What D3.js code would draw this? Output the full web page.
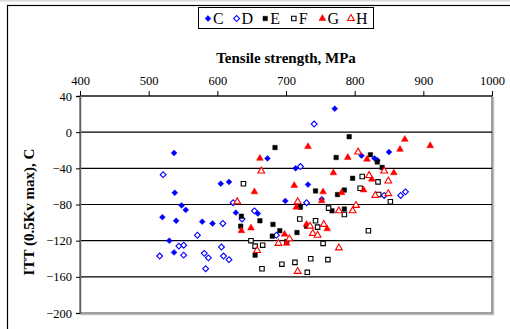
<!DOCTYPE html>
<html>
<head>
<meta charset="utf-8">
<script src="https://cdn.jsdelivr.net/npm/d3@7/dist/d3.min.js"></script>
<style>
  body { margin: 0; background: #fff; }
  svg { display: block; }
  svg text { font-family: "Liberation Serif", "Times New Roman", serif !important; }
</style>
</head>
<body>
<div id="chart"></div>
<script>
// Tensile strength (MPa) vs ITT (C), one [x, y] pair per point
const seriesNames = ['C', 'D', 'E', 'F', 'G', 'H'];

const pointsC = [[537,-23],[538,-67],[548,-81],[554,-86],[520,-94],[540,-98],[530,-120],[537,-133],
  [771,26],[673,-29],[714,-40],[605,-57],[617,-55],[732,-58],[699,-76],[752,-74],[627,-89],[659,-90],
  [578,-99],[593,-101],[810,-26],[829,-29],[833,-31],[850,-22]];
const pointsD = [[521,-47],[544,-126],[551,-125],[571,-114],[516,-137],[551,-136],[741,9],[721,-38],
  [623,-78],[730,-78],[654,-87],[636,-96],[608,-101],[686,-114],[606,-127],[581,-134],[587,-139],
  [609,-137],[617,-141],[583,-151],[843,-70],[867,-70],[874,-66]];
const pointsE = [[684,-17],[773,-28],[743,-65],[775,-69],[721,-83],[767,-87],[635,-93],[662,-98],
  [634,-104],[681,-102],[730,-104],[691,-109],[716,-111],[680,-115],[701,-121],[655,-136],[792,-5],
  [823,-25],[833,-33],[840,-39],[797,-51],[785,-64],[785,-85]];
const pointsF = [[638,-57],[762,-84],[720,-96],[743,-98],[746,-105],[649,-120],[754,-123],[655,-126],
  [666,-125],[694,-146],[713,-144],[736,-140],[761,-141],[665,-151],[731,-155],[811,-49],[834,-55],
  [808,-62],[835,-69],[852,-77],[785,-91],[820,-109]];
const pointsG = [[732,-16],[662,-29],[769,-45],[712,-59],[754,-66],[654,-66],[715,-83],[752,-76],
  [635,-109],[649,-106],[730,-102],[760,-107],[698,-113],[701,-123],[873,-8],[910,-15],[866,-19],
  [790,-28],[818,-30],[857,-45],[825,-52],[813,-64],[781,-67]];
const pointsH = [[664,-43],[629,-77],[717,-77],[777,-87],[735,-104],[755,-102],[739,-112],[746,-114],
  [705,-118],[689,-123],[777,-128],[658,-131],[717,-154],[805,-22],[843,-43],[821,-48],[849,-54],
  [830,-70],[849,-68],[797,-87],[802,-81]];

const xTicks = [400, 500, 600, 700, 800, 900, 1000];
const yTicks = [40, 0, -40, -80, -120, -160, -200];

const series = [
  { name: 'C', data: pointsC, shape: 'diamond', color: '#0000ff', filled: true },
  { name: 'D', data: pointsD, shape: 'diamond', color: '#0000ff', filled: false },
  { name: 'E', data: pointsE, shape: 'square', color: '#000000', filled: true },
  { name: 'F', data: pointsF, shape: 'square', color: '#000000', filled: false },
  { name: 'G', data: pointsG, shape: 'triangle', color: '#ff0000', filled: true },
  { name: 'H', data: pointsH, shape: 'triangle', color: '#ff0000', filled: false }
];

const W = 510, H = 329;
const plot = { left: 80, right: 492, top: 96, bottom: 313 };
const serif = '"Liberation Serif", "Times New Roman", serif';

const svg = d3.select('#chart').append('svg')
  .attr('width', W)
  .attr('height', H);

// outer chart frame (runs off the right/bottom of the picture)
svg.append('line').attr('x1', 0).attr('x2', W).attr('y1', 0.5).attr('y2', 0.5)
  .attr('stroke', '#d8d8d8').attr('stroke-width', 2);
svg.append('rect')
  .attr('x', 7.5).attr('y', 5.5)
  .attr('width', 700).attr('height', 500)
  .attr('fill', 'none').attr('stroke', '#000').attr('stroke-width', 1.2);

const x = d3.scaleLinear().domain([400, 1000]).range([plot.left, plot.right]);
const y = d3.scaleLinear().domain([-200, 40]).range([plot.bottom, plot.top]);

// plot area border with a slight shadow
svg.append('rect')
  .attr('x', plot.left + 1.5).attr('y', plot.top + 1.5)
  .attr('width', plot.right - plot.left).attr('height', plot.bottom - plot.top)
  .attr('fill', 'none').attr('stroke', '#c0c0c0').attr('stroke-width', 1.5);
svg.append('rect')
  .attr('x', plot.left).attr('y', plot.top)
  .attr('width', plot.right - plot.left).attr('height', plot.bottom - plot.top)
  .attr('fill', '#fff').attr('stroke', '#808080').attr('stroke-width', 1.5);

// horizontal gridlines
svg.append('g')
  .selectAll('line')
  .data(yTicks.filter(v => v !== -200))
  .join('line')
    .attr('x1', plot.left).attr('x2', plot.right)
    .attr('y1', d => y(d)).attr('y2', d => y(d))
    .attr('stroke', '#000').attr('stroke-width', 1.2);

// x axis on top
svg.append('g')
  .attr('transform', `translate(0,${y(40)})`)
  .attr('font-family', serif)
  .call(d3.axisTop(x).tickValues(xTicks).tickSize(5).tickPadding(6).tickFormat(d3.format('d')))
  .attr('font-family', serif)
  .attr('font-size', 12.5)
  .call(g => g.select('.domain').remove())
  .call(g => g.selectAll('line').attr('stroke', '#000'))
  .call(g => g.selectAll('text').attr('fill', '#000'));

// y axis
svg.append('g')
  .attr('transform', `translate(${plot.left},0)`)
  .call(d3.axisLeft(y).tickValues(yTicks).tickSize(4).tickPadding(4))
  .attr('font-family', serif)
  .attr('font-size', 12.5)
  .call(g => g.select('.domain').attr('stroke', '#606060').attr('stroke-width', 1.5))
  .call(g => g.selectAll('line').attr('stroke', '#000'))
  .call(g => g.selectAll('text').attr('fill', '#000'));

// axis titles
svg.append('text')
  .attr('x', 286).attr('y', 63)
  .attr('text-anchor', 'middle')
  .attr('font-family', serif)
  .attr('font-size', 15).attr('font-weight', 'bold')
  .text('Tensile strength, MPa');

svg.append('text')
  .attr('transform', 'translate(34,212) rotate(-90)')
  .attr('text-anchor', 'middle')
  .attr('font-family', serif)
  .attr('font-size', 15).attr('font-weight', 'bold')
  .text('ITT (0.5Kv max), C');

// markers
const symbols = {
  diamond: d3.symbol().type(d3.symbolSquare).size(17),
  square: d3.symbol().type(d3.symbolSquare).size(20),
  triangle: d3.symbol().type(d3.symbolTriangle).size(20)
};
function drawSymbol(sel, s) {
  sel.attr('d', symbols[s.shape])
    .attr('fill', s.filled ? s.color : '#fff')
    .attr('stroke', s.color)
    .attr('stroke-width', s.filled ? 0.5 : 1.1);
}
const rot = s => (s.shape === 'diamond' ? ' rotate(45)' : '');

series.forEach(s => {
  svg.append('g')
    .selectAll('path')
    .data(s.data)
    .join('path')
      .attr('transform', d => `translate(${x(d[0])},${y(d[1])})${rot(s)}`)
      .call(sel => drawSymbol(sel, s));
});

// legend
const legend = svg.append('g');
legend.append('rect')
  .attr('x', 198.5).attr('y', 7.5).attr('width', 175).attr('height', 21)
  .attr('fill', '#fff').attr('stroke', '#000').attr('stroke-width', 1);

const legendX = d3.scalePoint().domain(seriesNames).range([208, 351]);
const item = legend.selectAll('g.item')
  .data(series)
  .join('g')
    .attr('class', 'item')
    .attr('transform', d => `translate(${legendX(d.name)},18.5)`);
item.append('path')
  .attr('transform', d => rot(d).trim())
  .each(function(d) { drawSymbol(d3.select(this), d); });
item.append('text')
  .attr('x', 5).attr('y', 5.5)
  .attr('font-family', serif)
  .attr('font-size', 16)
  .text(d => d.name);
</script>
</body>
</html>
